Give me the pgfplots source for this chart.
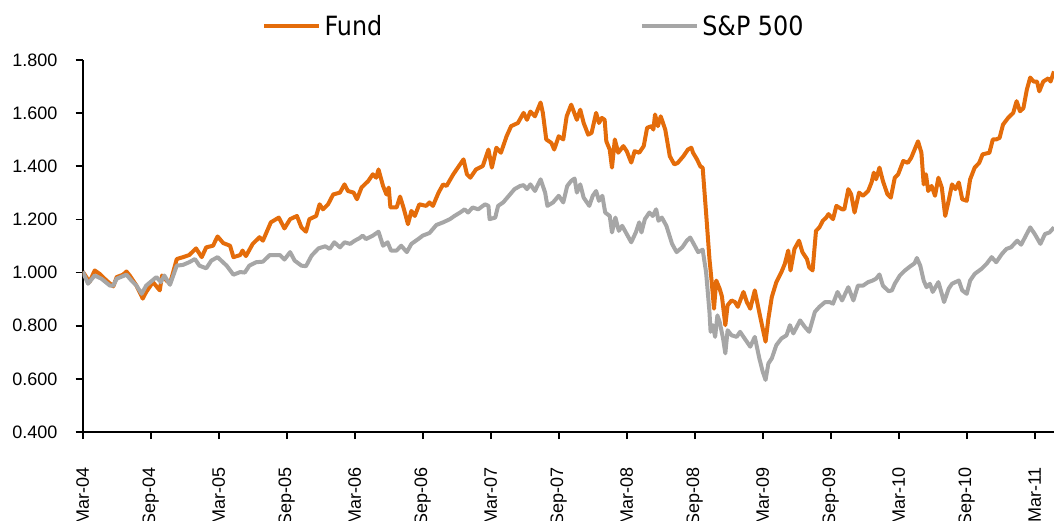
\documentclass[border=0pt]{standalone}
\usepackage{fontspec}
\setmainfont{Liberation Sans}
\newfontfamily\legfont[FakeStretch=0.9]{DejaVu Sans}
\usepackage{pgfplots}
\pgfplotsset{compat=1.18}
\definecolor{fundorange}{HTML}{E46C0A}
\definecolor{spgray}{HTML}{A6A6A6}
\begin{document}
\begin{tikzpicture}
\begin{axis}[
  scale only axis,
  width=971.3pt, height=372pt,
  at={(82.7pt,88pt)}, anchor=south west,
  xmin=0, xmax=85.7, ymin=0.4, ymax=1.8,
  axis x line*=bottom, axis y line*=left,
  axis line style={line width=2pt, black, -},
  tick align=outside,
  major tick length=7pt,
  tick style={line width=1.6pt, black},
  xtick={0,6,12,18,24,30,36,42,48,54,60,66,72,78,84},
  xticklabels={Mar-04,Sep-04,Mar-05,Sep-05,Mar-06,Sep-06,Mar-07,Sep-07,Mar-08,Sep-08,Mar-09,Sep-09,Mar-10,Sep-10,Mar-11},
  ytick={0.4,0.6,0.8,1.0,1.2,1.4,1.6,1.8},
  yticklabels={0.400,0.600,0.800,1.000,1.200,1.400,1.600,1.800},
  xticklabel style={rotate=90, anchor=east, inner sep=0pt, font=\fontsize{18}{20}\selectfont},
  yticklabel style={anchor=east, inner sep=0pt, font=\fontsize{18}{20}\selectfont},
  xticklabel shift=28pt,
  yticklabel shift=18pt,
  legend columns=2,
  legend style={at={(axis description cs:0.1846,1.0914)}, anchor=west, draw=none, fill=none,
    inner sep=0pt, outer sep=0pt,
    font=\legfont\fontsize{26.5}{30}\selectfont,
    nodes={inner xsep=3.5pt, inner ysep=0pt},
    /tikz/every even column/.append style={column sep=254pt}},
  legend image code/.code={\draw[#1] (0pt,0pt) -- (55pt,0pt);},
]
\addplot[fundorange, line width=4pt, line join=round] coordinates {
(0,1.004)(0.6,0.964)(1.06,1.008)(1.5,0.995)(2.1,0.970)(2.7,0.948)(3.0,0.983)(3.56,0.992)(3.86,1.004)(4.15,0.989)(4.74,0.951)(5.3,0.902)(5.6,0.927)(6.2,0.964)(6.8,0.933)(7.0,0.989)(7.4,0.970)(7.7,0.958)(8.3,1.051)(8.85,1.058)(9.4,1.066)(10.0,1.091)(10.5,1.058)(10.9,1.095)(11.5,1.101)(11.9,1.136)(12.4,1.111)(13.0,1.101)(13.3,1.058)(13.9,1.066)(14.1,1.083)(14.4,1.062)(15.0,1.108)(15.6,1.133)(15.9,1.120)(16.6,1.189)(17.3,1.207)(17.8,1.166)(18.3,1.201)(18.9,1.213)(19.3,1.170)(19.7,1.154)(20.0,1.201)(20.6,1.213)(20.9,1.257)(21.2,1.238)(21.65,1.257)(22.1,1.294)(22.7,1.301)(23.1,1.332)(23.4,1.307)(23.9,1.301)(24.2,1.276)(24.6,1.320)(25.2,1.345)(25.6,1.370)(25.9,1.357)(26.1,1.388)(26.5,1.326)(26.8,1.294)(27.0,1.320)(27.15,1.245)(27.7,1.245)(28.0,1.286)(28.3,1.245)(28.7,1.182)(29.0,1.232)(29.3,1.213)(29.7,1.257)(30.3,1.251)(30.6,1.264)(30.9,1.251)(31.4,1.301)(31.8,1.332)(32.1,1.326)(32.7,1.370)(33.1,1.395)(33.6,1.426)(33.9,1.370)(34.2,1.357)(34.7,1.388)(35.3,1.401)(35.8,1.463)(36.1,1.395)(36.5,1.470)(36.9,1.451)(37.4,1.513)(37.8,1.551)(38.4,1.563)(38.9,1.601)(39.2,1.575)(39.5,1.606)(39.9,1.588)(40.4,1.640)(40.6,1.601)(40.9,1.501)(41.35,1.488)(41.6,1.463)(42.0,1.513)(42.4,1.501)(42.7,1.588)(43.1,1.632)(43.6,1.575)(43.9,1.613)(44.2,1.563)(44.6,1.519)(44.9,1.526)(45.3,1.601)(45.55,1.563)(45.8,1.582)(46.05,1.575)(46.2,1.494)(46.5,1.463)(46.7,1.395)(46.95,1.501)(47.25,1.451)(47.7,1.476)(48.0,1.457)(48.4,1.414)(48.7,1.457)(49.1,1.451)(49.5,1.476)(49.8,1.545)(50.2,1.551)(50.35,1.538)(50.5,1.595)(50.75,1.551)(51.0,1.588)(51.4,1.538)(51.8,1.438)(52.2,1.407)(52.5,1.413)(53.0,1.438)(53.4,1.463)(53.7,1.470)(53.85,1.451)(54.2,1.426)(54.5,1.399)(54.7,1.395)(55.0,1.226)(55.3,1.051)(55.5,0.964)(55.7,0.864)(55.9,0.970)(56.2,0.939)(56.4,0.910)(56.7,0.802)(56.9,0.877)(57.25,0.895)(57.55,0.889)(57.8,0.871)(58.3,0.927)(58.6,0.889)(58.9,0.864)(59.3,0.933)(59.75,0.839)(60.0,0.789)(60.25,0.740)(60.5,0.827)(60.8,0.908)(61.2,0.964)(61.65,1.002)(61.95,1.033)(62.25,1.083)(62.45,1.008)(62.8,1.089)(63.2,1.120)(63.5,1.077)(63.9,1.051)(64.1,1.020)(64.4,1.008)(64.7,1.157)(65.0,1.170)(65.3,1.195)(65.6,1.207)(65.8,1.220)(66.2,1.201)(66.5,1.251)(67.0,1.238)(67.2,1.238)(67.55,1.314)(67.8,1.295)(68.1,1.226)(68.5,1.301)(68.85,1.289)(69.3,1.307)(69.6,1.339)(69.8,1.376)(70.0,1.351)(70.3,1.395)(70.6,1.345)(71.0,1.295)(71.3,1.282)(71.65,1.357)(71.95,1.370)(72.4,1.420)(72.8,1.413)(73.1,1.432)(73.4,1.463)(73.7,1.494)(74.0,1.451)(74.2,1.332)(74.4,1.370)(74.6,1.307)(74.9,1.326)(75.2,1.289)(75.5,1.357)(75.8,1.320)(76.1,1.213)(76.4,1.270)(76.7,1.332)(77.0,1.314)(77.3,1.339)(77.6,1.276)(78.0,1.270)(78.3,1.351)(78.7,1.395)(79.1,1.413)(79.4,1.445)(80.0,1.451)(80.3,1.501)(80.6,1.501)(80.9,1.507)(81.2,1.557)(81.65,1.582)(82.1,1.601)(82.4,1.645)(82.7,1.607)(83.0,1.619)(83.3,1.688)(83.6,1.734)(83.9,1.719)(84.2,1.719)(84.4,1.682)(84.75,1.719)(85.2,1.731)(85.4,1.719)(85.7,1.757)
};
\addlegendentry{Fund}
\addplot[spgray, line width=4pt, line join=round] coordinates {
(0,1.004)(0.47,0.958)(1.06,0.989)(1.65,0.977)(2.4,0.951)(2.7,0.951)(3.0,0.977)(3.86,0.992)(4.3,0.970)(4.74,0.951)(5.2,0.920)(5.6,0.951)(6.5,0.983)(6.9,0.964)(7.2,0.989)(7.7,0.954)(8.3,1.026)(8.85,1.029)(9.4,1.039)(9.9,1.051)(10.3,1.026)(10.9,1.016)(11.35,1.045)(11.9,1.058)(12.7,1.026)(13.3,0.992)(13.9,1.002)(14.3,1.000)(14.7,1.026)(15.3,1.039)(15.9,1.041)(16.5,1.066)(17.4,1.066)(17.8,1.049)(18.3,1.077)(18.7,1.045)(19.3,1.026)(19.7,1.024)(20.2,1.064)(20.8,1.091)(21.4,1.099)(21.8,1.089)(22.2,1.114)(22.7,1.095)(23.1,1.114)(23.6,1.108)(24.0,1.120)(24.4,1.129)(24.7,1.139)(25.0,1.126)(25.6,1.139)(26.1,1.154)(26.5,1.101)(26.9,1.114)(27.2,1.083)(27.7,1.083)(28.1,1.101)(28.6,1.077)(29.0,1.108)(29.6,1.126)(30.0,1.139)(30.6,1.149)(31.2,1.179)(31.8,1.189)(32.4,1.201)(32.8,1.213)(33.3,1.226)(33.7,1.238)(34.0,1.226)(34.4,1.245)(34.9,1.238)(35.5,1.257)(35.8,1.251)(35.9,1.201)(36.4,1.207)(36.65,1.251)(37.1,1.264)(37.7,1.294)(38.1,1.314)(38.6,1.326)(38.9,1.329)(39.2,1.314)(39.5,1.332)(39.9,1.307)(40.4,1.351)(40.8,1.301)(41.0,1.251)(41.5,1.264)(42.0,1.289)(42.4,1.264)(42.75,1.326)(43.1,1.345)(43.4,1.354)(43.6,1.301)(43.9,1.332)(44.2,1.282)(44.7,1.251)(45.0,1.289)(45.3,1.307)(45.55,1.270)(45.85,1.289)(46.1,1.226)(46.5,1.213)(46.7,1.151)(47.0,1.207)(47.3,1.157)(47.6,1.176)(48.0,1.145)(48.4,1.114)(48.8,1.151)(49.1,1.189)(49.3,1.151)(49.6,1.201)(50.0,1.226)(50.3,1.213)(50.6,1.238)(50.8,1.195)(51.1,1.207)(51.5,1.176)(52.0,1.108)(52.4,1.077)(52.9,1.095)(53.3,1.120)(53.6,1.132)(54.0,1.101)(54.3,1.077)(54.7,1.086)(55.0,1.002)(55.3,0.852)(55.4,0.777)(55.6,0.802)(55.8,0.758)(56.0,0.839)(56.2,0.814)(56.5,0.752)(56.7,0.696)(56.9,0.783)(57.25,0.764)(57.7,0.758)(58.0,0.777)(58.4,0.752)(58.9,0.721)(59.3,0.758)(59.7,0.677)(60.0,0.627)(60.25,0.596)(60.5,0.658)(60.8,0.677)(61.2,0.727)(61.65,0.752)(62.1,0.764)(62.4,0.802)(62.7,0.771)(63.3,0.820)(63.7,0.796)(64.1,0.777)(64.6,0.852)(65.0,0.871)(65.5,0.889)(65.9,0.889)(66.2,0.883)(66.6,0.927)(67.0,0.895)(67.55,0.945)(68.0,0.895)(68.4,0.951)(68.85,0.951)(69.3,0.964)(69.7,0.970)(70.0,0.977)(70.3,0.993)(70.6,0.951)(71.1,0.930)(71.4,0.933)(71.65,0.958)(72.1,0.989)(72.55,1.008)(73.0,1.023)(73.4,1.035)(73.6,1.055)(73.9,1.026)(74.2,0.970)(74.45,0.945)(74.75,0.958)(75.0,0.927)(75.5,0.964)(75.8,0.920)(76.0,0.889)(76.4,0.939)(76.7,0.958)(77.0,0.964)(77.3,0.970)(77.6,0.933)(78.0,0.920)(78.3,0.970)(78.7,0.995)(79.3,1.014)(79.75,1.033)(80.2,1.058)(80.6,1.039)(81.1,1.070)(81.5,1.089)(81.9,1.095)(82.45,1.120)(82.8,1.105)(83.6,1.170)(84.0,1.145)(84.5,1.108)(84.9,1.145)(85.3,1.151)(85.7,1.170)
};
\addlegendentry{S\&P 500}
\end{axis}
\pgfresetboundingbox
\path[use as bounding box] (0pt,0pt) rectangle (1054pt,520pt);
\end{tikzpicture}
\end{document}
